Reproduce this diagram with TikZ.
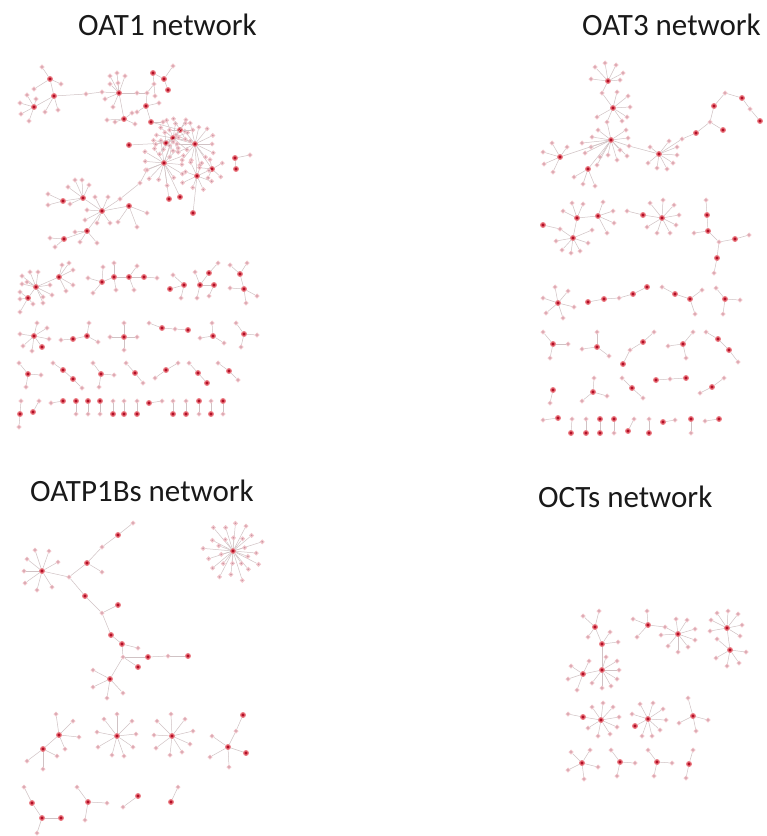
\documentclass[tikz,border=0pt]{standalone}
\usepackage{fontspec}
\setmainfont{Carlito}
\definecolor{hubred}{RGB}{178,14,38}
\definecolor{hubhalo}{RGB}{236,120,128}
\definecolor{leafpink}{RGB}{196,150,162}
\definecolor{leafhalo}{RGB}{242,196,202}
\definecolor{edgecol}{RGB}{208,194,196}
\tikzset{
  hubdot/.style={circle,inner sep=0pt,minimum size=4.6pt,fill=hubred,draw=hubhalo,line width=1.2pt},
  leafdot/.style={circle,inner sep=0pt,minimum size=3.6pt,fill=leafpink,draw=leafhalo,line width=1.0pt},
  edge/.style={draw=edgecol,line width=0.5pt},
  title/.style={anchor=base west,inner sep=0pt,text=black!90,font=\fontsize{31}{36}\selectfont}
}
\newcounter{leafno}
% hub and leaf dots; edges run between node borders
\newcommand\hb[3]{\node[hubdot] (#1) at (#2,#3) {};}
\newcommand\lf[3]{\node[leafdot] (#1) at (#2,#3) {};}
\newcommand\ed[2]{\draw[edge] (#1)--(#2);}
\newcommand\hbe[4]{\hb{#1}{#2}{#3}\ed{#1}{#4}}
\newcommand\lfe[4]{\lf{#1}{#2}{#3}\ed{#1}{#4}}
\newcommand\lv[3]{\stepcounter{leafno}\lfe{lv\arabic{leafno}}{#1}{#2}{#3}}
\newcommand\leaves[2]{\foreach \px/\py in {#2}{\lv{\px}{\py}{#1}}}
% ring of leaves round a hub: hub, count, radius, start angle, name prefix
\newcommand\spokes[5]{\foreach \k in {1,...,#2}{%
  \path (#1) ++({#4+360*\k/#2}:{#3*(1+0.14*sin(151*\k))}) node[leafdot] (#5\k) {};
  \ed{#1}{#5\k}}}
\begin{document}
\begin{tikzpicture}[x=1pt,y=-1pt]
\useasboundingbox (0,0) rectangle (767,836);
\fill[white] (0,0) rectangle (767,836);

% ---------- titles ----------
\node[title] (t1) at (78,35) {OAT1 network};
\node[title] (t2) at (582,35) {OAT3 network};
\node[title] (t3) at (30,501) {OATP1Bs network};
\node[title] (t4) at (538,507) {OCTs network};

% ================= OAT1 =================
% left cluster
\hb{a1}{54}{96} \hbe{a2}{50}{79}{a1} \hbe{a3}{34}{107}{a1}
\leaves{a2}{42/67,61/84,34/89}
\leaves{a3}{36/99,20/103,21/114,29/121,27/95}
\leaves{a1}{45/112,58/110}
\lfe{a14}{86}{94}{a1} \lfe{a15}{102}{92}{a14}
% upper middle cluster
\hbe{b1}{119}{93}{a15}
\leaves{b1}{110/76,117/73,125/76,110/84,118/83,105/99,113/107}
\lfe{b9}{137}{93}{b1} \lfe{b10}{147}{93}{b9}
\hbe{b11}{124}{119}{b1}
\leaves{b11}{107/120,115/122,132/113,135/124}
\hb{b16}{153}{73} \hbe{b17}{164}{79}{b16} \hbe{b18}{168}{90}{b17}
\leaves{b17}{173/66}
\lfe{b20}{154}{84}{b16} \ed{b20}{b10}
\leaves{b20}{155/96}
\hbe{b22}{146}{106}{b10} \hbe{b23}{151}{122}{b22}
\leaves{b22}{159/103,137/112}
\leaves{b23}{163/122}
% dense cluster
\hbe{c3}{180}{130}{b23} \hbe{c1}{173}{138}{c3} \hbe{c2}{166}{143}{c1}
\hbe{c4}{195}{144}{c1} \hbe{c5}{164}{163}{c1} \hbe{c6}{197}{176}{c4}
\hbe{c7}{212}{169}{c4} \hbe{c8}{180}{197}{c5} \hbe{c9}{169}{199}{c5}
\hbe{c10}{193}{213}{c6} \hb{c11}{129}{145} \ed{c11}{c2}
\spokes{c1}{12}{17}{10}{ca}
\spokes{c4}{14}{19}{0}{cb}
\spokes{c5}{14}{20}{5}{cc}
\spokes{c6}{8}{14}{20}{cd}
\spokes{c3}{6}{12}{-60}{ce}
\spokes{c7}{5}{11}{-30}{cf}
\spokes{c2}{5}{12}{120}{cg}
\hb{c12}{235}{158} \hbe{c13}{236}{169}{c12} \leaves{c12}{250/155}
% lower left cluster
\hb{d1}{102}{211} \hbe{d2}{83}{198}{d1} \hbe{d3}{63}{201}{d2}
\hbe{d4}{129}{206}{d1} \hbe{d5}{87}{231}{d1} \hbe{d6}{64}{239}{d5}
\leaves{d2}{75/180,82/180,89/185,68/187,70/204}
\leaves{d3}{48/194,48/205}
\leaves{d1}{95/197,108/197,87/210,85/220,97/223,110/223}
\leaves{d4}{118/222,137/227,147/213}
\leaves{d5}{75/232,80/242,97/243}
\leaves{d6}{50/238,55/247}
\lfe{d28}{120}{199}{d1} \lfe{d29}{140}{183}{d28} \lfe{d30}{147}{170}{d29} \ed{d30}{c5}

% row 1
\hb{r1}{36}{287} \hbe{r2}{28}{298}{r1} \hbe{r3}{59}{277}{r1}
\leaves{r1}{22/276,30/272,38/272,22/284,43/303,43/297,50/285,52/295,27/282}
\leaves{r2}{20/292,20/299,33/304,20/312}
\leaves{r3}{62/265,69/263,73/270,73/285,66/291}
\hb{r4}{102}{282} \hbe{r5}{114}{277}{r4} \hbe{r6}{129}{277}{r5} \hbe{r7}{144}{277}{r6}
\leaves{r4}{88/278,93/293,103/267}
\leaves{r5}{114/263,116/290}
\leaves{r6}{137/266,134/290}
\leaves{r7}{157/278}
\hb{r8}{170}{289} \hbe{r9}{184}{285}{r8} \hb{r10}{200}{285} \hbe{r11}{214}{285}{r10} \hbe{r12}{209}{273}{r10}
\hb{r13}{240}{274} \hbe{r14}{244}{289}{r13}
\leaves{r9}{173/275,181/298}
\leaves{r10}{195/272,197/298}
\leaves{r11}{209/296}
\leaves{r12}{218/263}
\leaves{r13}{230/265,247/263}
\leaves{r14}{230/288,257/296,246/303}
% row 2
\hb{s1}{34}{336} \hbe{s2}{42}{347}{s1}
\leaves{s1}{37/323,47/328,20/334,49/339,23/346,32/351}
\hb{s3}{73}{339} \hbe{s4}{87}{336}{s3}
\leaves{s3}{61/340} \leaves{s4}{89/323,98/342}
\hb{s5}{124}{337} \leaves{s5}{110/337,124/323,124/350,137/337}
\hb{s6}{162}{328} \hb{s7}{188}{330} \lfe{s6a}{175}{329}{s6} \ed{s6a}{s7}
\leaves{s6}{149/323}
\hb{s8}{213}{336} \leaves{s8}{200/338,212/323,224/343}
\hb{s9}{244}{334} \leaves{s9}{236/323,257/335,241/347}
% row 3
\hb{q1a}{28}{374} \leaves{q1a}{19/363,41/375,26/387}
\hb{q2a}{63}{370} \hbe{q3a}{73}{379}{q2a} \leaves{q2a}{53/363} \leaves{q3a}{82/388}
\hb{q4a}{101}{374} \leaves{q4a}{93/363,114/375,99/387}
\hb{q5a}{135}{373} \leaves{q5a}{126/363,143/383}
\hb{q6a}{166}{370} \leaves{q6a}{155/378,178/363}
\hb{q7a}{198}{373} \hbe{q8a}{207}{383}{q7a} \leaves{q7a}{189/363}
\hb{q9a}{229}{371} \leaves{q9a}{218/363,238/380}
% row 4: small pairs
\hb{w01}{20}{414} \leaves{w01}{21/401,19/427}
\hb{w02}{33}{412} \leaves{w02}{39/401}
\hb{w03}{63}{401} \leaves{w03}{51/403}
\hb{w04}{76}{401} \leaves{w04}{76/414}
\hb{w05}{88}{401} \leaves{w05}{88/414}
\hb{w06}{100}{401} \leaves{w06}{100/414}
\hb{w07}{113}{414} \leaves{w07}{113/401}
\hb{w08}{124}{414} \leaves{w08}{124/401}
\hb{w09}{137}{414} \leaves{w09}{137/401}
\hb{w10}{149}{403} \leaves{w10}{162/401}
\hb{w11}{173}{414} \leaves{w11}{173/401}
\hb{w12}{186}{414} \leaves{w12}{186/401}
\hb{w13}{199}{401} \leaves{w13}{199/414}
\hb{w14}{211}{414} \leaves{w14}{211/401}
\hb{w15}{223}{401} \leaves{w15}{223/414}

% ================= OAT3 =================
\hb{e1}{608}{81} \leaves{e1}{595/67,605/63,616/65,623/73,591/79,620/80}
\lfe{e1a}{602}{93}{e1} \hbe{e2}{613}{108}{e1a}
\leaves{e2}{617/92,628/96,630/107,627/117,622/121,597/117}
\lfe{e2a}{607}{122}{e2} \hbe{e3}{611}{140}{e2a}
\leaves{e3}{592/137,582/143,598/130,626/130,628/138,627/156,620/150,617/160,608/155,600/157,591/147,585/153,597/165}
\lfe{e3a}{629}{146}{e3}
\hbe{e4}{560}{157}{e3} \leaves{e4}{552/143,543/152,544/164,553/172,567/147}
\hbe{e5}{588}{169}{e3} \leaves{e5}{574/177,583/184,595/186}
\hbe{e6}{659}{154}{e3a}
\leaves{e6}{669/141,677/147,677/155,673/163,667/169,657/168,648/163,650/147}
\lfe{e7}{682}{139}{e6} \hbe{e8}{696}{133}{e7} \lfe{e9}{710}{122}{e8}
\hbe{e10}{714}{106}{e9} \lfe{e11}{725}{93}{e10} \hbe{e12}{742}{98}{e11}
\lfe{e13}{750}{109}{e12} \hbe{e14}{760}{121}{e13} \hbe{e15}{723}{130}{e9}
% second band
\hb{f1}{577}{218} \hbe{f2}{598}{216}{f1} \hbe{f3}{573}{238}{f1} \hb{f4}{543}{225}
\lfe{f5}{560}{229}{f4} \ed{f5}{f3}
\leaves{f1}{572/203,583/204,563/211}
\leaves{f2}{603/202,613/211,614/223,607/233}
\leaves{f3}{592/230,556/241,562/250,571/253,580/251,588/243}
\hb{g1}{662}{218} \hbe{g2}{643}{215}{g1} \leaves{g2}{627/211}
\leaves{g1}{650/203,663/200,674/205,679/215,676/225,670/233,657/233,647/227}
\lf{h0}{706}{200} \hbe{h1}{707}{215}{h0} \hbe{h2}{708}{231}{h1}
\leaves{h2}{694/233} \lfe{h5}{719}{242}{h2} \hbe{h3}{735}{239}{h5}
\leaves{h3}{749/235} \hbe{h4}{717}{258}{h5} \leaves{h4}{714/273}
% third band
\hb{i1}{558}{303} \leaves{i1}{555/287,568/291,543/298,574/307,546/313,563/318}
\hb{i2}{588}{302} \hbe{i3}{604}{299}{i2} \lfe{i3a}{619}{298}{i3} \hbe{i4}{633}{294}{i3a} \hbe{i5}{647}{287}{i4}
\lf{i5a}{662}{287} \hbe{i6}{675}{294}{i5a} \hbe{i7}{690}{299}{i6} \leaves{i7}{702/290,695/314}
\hb{i8}{725}{299} \leaves{i8}{716/288,740/300,723/314}
% fourth band
\hb{j1}{553}{344} \leaves{j1}{543/332,568/344,550/358}
\hb{j2}{597}{347} \leaves{j2}{582/349,597/332,609/356}
\hb{j3}{623}{364} \lfe{j3a}{630}{350}{j3} \hbe{j4}{643}{342}{j3a} \leaves{j4}{654/332}
\hb{j5}{683}{344} \leaves{j5}{668/346,693/332,686/358}
\lf{j6a}{706}{332} \hbe{j6}{718}{339}{j6a} \hbe{j7}{729}{350}{j6} \leaves{j7}{738/362}
% fifth band
\hb{k1}{553}{390} \leaves{k1}{550/403}
\hb{k2}{593}{392} \leaves{k2}{594/378,582/401,607/396}
\hb{k3}{632}{388} \leaves{k3}{622/378,643/398}
\hb{k4}{656}{380} \lfe{k4a}{670}{379}{k4} \hbe{k5}{686}{378}{k4a}
\hb{k6}{712}{387} \leaves{k6}{700/393,724/378}
% bottom pairs
\hb{m01}{558}{418} \leaves{m01}{543/420}
\hb{m02}{571}{433} \leaves{m02}{572/419}
\hb{m03}{586}{433} \leaves{m03}{586/419}
\hb{m04}{600}{419} \hbe{m05}{600}{433}{m04}
\hb{m06}{614}{419} \leaves{m06}{614/433}
\hb{m07}{628}{431} \leaves{m07}{634/419}
\hb{m08}{649}{433} \leaves{m08}{649/419}
\hb{m09}{663}{422} \leaves{m09}{675/420}
\hb{m10}{691}{419} \leaves{m10}{691/433}
\hb{m11}{719}{419} \leaves{m11}{705/421}

% ================= OATP1Bs =================
\hb{p1}{42}{571} \leaves{p1}{35/550,49/551,27/559,58/562,24/571,25/583,37/590,52/587}
\lfe{q1}{69}{577}{p1} \hbe{q2}{87}{563}{q1} \lfe{q3}{102}{547}{q2}
\hbe{q4}{118}{535}{q3} \leaves{q4}{133/523} \leaves{q2}{102/572}
\hbe{q7}{85}{596}{q1} \lfe{q8}{102}{613}{q7} \hbe{q9}{118}{605}{q8}
\hbe{q10}{111}{635}{q8} \hbe{q11}{122}{644}{q10} \leaves{q11}{138/648}
\lfe{q13}{123}{657}{q11} \hbe{q14}{148}{657}{q13} \lfe{q15}{168}{656}{q14} \hbe{q16}{188}{656}{q15}
\hbe{q17}{138}{667}{q13} \hbe{q18}{110}{679}{q13}
\leaves{q18}{93/670,93/687,107/698,123/693}
% large star
\hb{p2}{233}{551}
\spokes{p2}{16}{27}{5}{pa}
\spokes{p2}{10}{14}{20}{pb}
% middle row
\hb{u1}{59}{735} \hbe{u2}{43}{749}{u1}
\leaves{u1}{56/714,73/721,79/737,65/749} \leaves{u2}{57/756,27/761,43/769}
\hb{u3}{117}{736} \leaves{u3}{104/719,117/714,132/721,97/732,136/734,98/747,112/755,124/756,133/747}
\hb{u4}{172}{736} \leaves{u4}{157/721,171/714,185/719,193/731,154/735,156/748,170/755,182/752,190/744}
\hb{u5}{228}{747} \lfe{u5a}{236}{731}{u5} \hbe{u6}{243}{715}{u5a} \hbe{u7}{246}{753}{u5}
\leaves{u5}{212/736,210/757,229/767}
% bottom row
\lf{v0}{24}{787} \hbe{v1}{32}{803}{v0} \hbe{v2}{42}{818}{v1} \hbe{v3}{61}{818}{v2} \leaves{v2}{37/833}
\hb{v4}{88}{802} \leaves{v4}{77/787,107/803,85/820}
\hb{v5}{138}{796} \leaves{v5}{123/807}
\hb{v6}{171}{802} \leaves{v6}{178/787}

% ================= OCTs =================
\hb{o1}{595}{627} \hbe{o2}{602}{644}{o1}
\leaves{o1}{583/616,599/611,588/637} \leaves{o2}{610/632,618/642}
\hbe{o3}{602}{670}{o2} \hbe{o4}{583}{674}{o3}
\leaves{o3}{606/657,617/661,619/670,617/679,611/686,602/688,592/683}
\leaves{o4}{589/661,571/666,568/679,577/690}
\hb{o5}{648}{625} \lfe{o5a}{665}{627}{o5} \hbe{o6}{678}{634}{o5a}
\leaves{o5}{647/611,633/619,637/637}
\leaves{o6}{661/635,676/619,687/620,695/629,695/640,688/647,678/652,668/646}
\hb{o7}{727}{628} \hbe{o8}{730}{650}{o7}
\leaves{o7}{711/620,717/613,728/611,738/614,742/625,740/636,710/631}
\leaves{o8}{717/639,716/658,727/666,739/663,746/652}
\hb{o9}{583}{717} \hbe{o10}{601}{720}{o9}
\leaves{o9}{568/714} \leaves{o10}{592/707,603/703,613/707,619/717,617/727,610/734,598/736,588/728}
\hb{o11}{648}{719} \hbe{o12}{635}{726}{o11}
\leaves{o11}{640/704,653/703,663/709,666/720,660/730,652/736,642/736,632/714}
\hb{o13}{693}{716} \leaves{o13}{688/698,679/723,708/720,696/731}
\hb{o14}{582}{763} \leaves{o14}{571/752,590/750,568/770,598/767,584/779}
\hb{o15}{620}{762} \leaves{o15}{611/750,635/763,617/776}
\hb{o16}{657}{762} \leaves{o16}{648/750,672/763,654/776}
\hb{o17}{689}{764} \leaves{o17}{693/750,686/778}
\end{tikzpicture}
\end{document}
